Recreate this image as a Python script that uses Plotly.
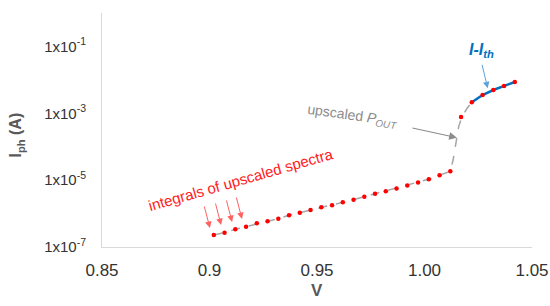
import plotly.graph_objects as go

# integrals of upscaled spectra (red markers)
v_spectra = [0.902, 0.907, 0.912, 0.917, 0.922, 0.927, 0.932, 0.937, 0.942, 0.947,
             0.952, 0.957, 0.962, 0.967, 0.972, 0.977, 0.982, 0.987, 0.992, 0.997,
             1.002, 1.007, 1.012, 1.017, 1.022, 1.027, 1.032, 1.037, 1.042]
i_spectra = [2.29e-7, 2.68e-7, 3.38e-7, 4.05e-7, 5.12e-7, 5.87e-7, 7.03e-7, 8.87e-7,
             1.06e-6, 1.28e-6, 1.54e-6, 1.78e-6, 2.19e-6, 2.60e-6, 3.20e-6, 3.93e-6,
             4.63e-6, 5.62e-6, 6.92e-6, 8.49e-6, 1.07e-5, 1.40e-5, 1.84e-5,
             7.74e-4, 2.13e-3, 3.52e-3, 4.97e-3, 6.54e-3, 8.63e-3]

# upscaled P_OUT (grey dashed)
v_pout = [0.902, 0.907, 0.912, 0.917, 0.922, 0.927, 0.932, 0.937, 0.942, 0.947,
          0.952, 0.957, 0.962, 0.967, 0.972, 0.977, 0.982, 0.987, 0.992, 0.997,
          1.002, 1.007, 1.012, 1.0133, 1.0143, 1.0151, 1.0159, 1.0174, 1.0198,
          1.022, 1.027, 1.032, 1.037, 1.042]
i_pout = [2.29e-7, 2.68e-7, 3.38e-7, 4.05e-7, 5.12e-7, 5.87e-7, 7.03e-7, 8.87e-7,
          1.06e-6, 1.28e-6, 1.54e-6, 1.78e-6, 2.19e-6, 2.60e-6, 3.20e-6, 3.93e-6,
          4.63e-6, 5.62e-6, 6.92e-6, 8.49e-6, 1.07e-5, 1.40e-5, 1.84e-5,
          4.0e-5, 1.0e-4, 2.0e-4, 4.0e-4, 7.74e-4, 1.41e-3,
          2.13e-3, 3.52e-3, 4.97e-3, 6.54e-3, 8.63e-3]

# I - I_th (blue line)
v_ith = [1.022, 1.027, 1.032, 1.037, 1.042]
i_ith = [2.13e-3, 3.52e-3, 4.97e-3, 6.54e-3, 8.63e-3]

y_tickvals = [1e-7, 1e-5, 1e-3, 1e-1]
y_ticktext = ["1x10<sup>-7</sup>", "1x10<sup>-5</sup>", "1x10<sup>-3</sup>", "1x10<sup>-1</sup>"]
x_tickvals = [0.85, 0.9, 0.95, 1.0, 1.05]
x_ticktext = ["0.85", "0.9", "0.95", "1.00", "1.05"]

FONT = "Arial, Liberation Sans, sans-serif"

fig = go.Figure()
fig.add_trace(go.Scatter(x=v_pout, y=i_pout, mode="lines",
                         line=dict(color="#a6a6a6", width=1.5, dash="dash")))
fig.add_trace(go.Scatter(x=v_ith, y=i_ith, mode="lines",
                         line=dict(color="#0070c0", width=2.5)))
fig.add_trace(go.Scatter(x=v_spectra, y=i_spectra, mode="markers",
                         marker=dict(color="#ff0000", size=4.5)))

annotations = [
    dict(text="integrals of upscaled spectra", x=0.9147, y=-4.97, xref="x", yref="y",
         showarrow=False, textangle=-16, font=dict(color="#ff2020", size=15, family=FONT)),
    dict(text="upscaled <i>P<sub>OUT</sub></i>", x=0.9665, y=-3.08, xref="x", yref="y",
         showarrow=False, textangle=8, font=dict(color="#8c8c8c", size=14, family=FONT)),
    dict(text="<b><i>I-I<sub>th</sub></i></b>", x=1.0267, y=-1.107, xref="x", yref="y",
         showarrow=False, font=dict(color="#0070c0", size=16, family=FONT)),
    dict(text="<b>V</b>", x=0.5, y=-0.188, xref="paper", yref="paper", showarrow=False,
         yanchor="middle", font=dict(color="#595959", size=17, family=FONT)),
    dict(text="<b>I<sub>ph</sub> (A)</b>", x=-0.198, y=0.48, xref="paper", yref="paper",
         showarrow=False, textangle=-90, xanchor="center", yanchor="middle",
         font=dict(color="#595959", size=16, family=FONT)),
]

# red arrows pointing at the first spectra points
for hx, hy in [(0.9002, -6.432), (0.9054, -6.342), (0.9105, -6.252), (0.9151, -6.162)]:
    annotations.append(dict(x=hx, y=hy, xref="x", yref="y", ax=-6, ay=-23,
                            text="", showarrow=True, arrowhead=2, arrowsize=1.3,
                            arrowwidth=1, arrowcolor="#ff6060"))
annotations.append(dict(x=1.0151, y=-3.73, xref="x", yref="y", ax=-46, ay=-10,
                        text="", showarrow=True, arrowhead=2, arrowsize=1.3,
                        arrowwidth=1.2, arrowcolor="#8c8c8c"))
annotations.append(dict(x=1.0294, y=-2.253, xref="x", yref="y", ax=-6, ay=-25,
                        text="", showarrow=True, arrowhead=2, arrowsize=1.3,
                        arrowwidth=1, arrowcolor="#5ba3d9"))

fig.update_layout(
    width=550, height=306,
    margin=dict(l=102, r=18, t=13, b=59),
    paper_bgcolor="white", plot_bgcolor="white",
    showlegend=False,
    font=dict(family=FONT, size=15, color="#333333"),
    annotations=annotations,
    xaxis=dict(range=[0.85, 1.05], tickvals=x_tickvals, ticktext=x_ticktext,
               showgrid=False, zeroline=False, showline=True, linecolor="#d9d9d9",
               linewidth=1, ticks="", ticklabelstandoff=8, automargin=False,
               tickfont=dict(size=17)),
    yaxis=dict(type="log", range=[-7, 0], tickvals=y_tickvals, ticktext=y_ticktext,
               showgrid=False, zeroline=False, showline=True, linecolor="#d9d9d9",
               linewidth=1, ticks="", ticklabelstandoff=12, automargin=False,
               tickfont=dict(size=15)),
)

# drop the default page margin so the figure sits at the window's top-left corner
fig.write_html("out.html", config={"displayModeBar": False},
               post_script="document.body.style.margin='0';")
